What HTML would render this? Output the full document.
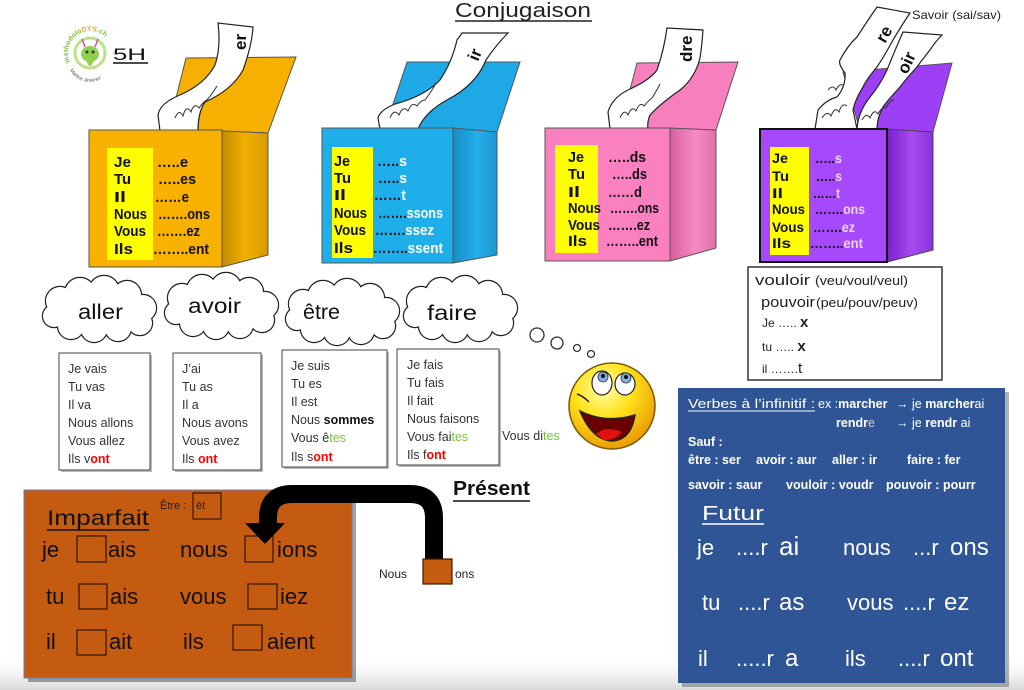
<!DOCTYPE html>
<html><head><meta charset="utf-8">
<style>
html,body{margin:0;padding:0;background:#fff;}
svg{display:block;}
.b{font-family:"Liberation Sans",sans-serif;font-weight:bold;font-size:15px;fill:#111;}
.c{font-family:"Liberation Sans",sans-serif;font-size:12.5px;fill:#333;}
.hw{font-family:"Liberation Sans",sans-serif;}
.w{font-family:"Liberation Sans",sans-serif;font-size:12.5px;fill:#fff;font-weight:bold;}
.wn{font-family:"Liberation Sans",sans-serif;font-size:12.5px;fill:#fff;}
</style></head><body>
<svg width="1024" height="690" viewBox="0 0 1024 690" xmlns="http://www.w3.org/2000/svg">
<defs>
<linearGradient id="gO" x1="0" x2="1" y1="0" y2="0"><stop offset="0" stop-color="#c68c00"/><stop offset="0.5" stop-color="#f0b000"/><stop offset="1" stop-color="#d89b00"/></linearGradient>
<linearGradient id="gB" x1="0" x2="1"><stop offset="0" stop-color="#168cc4"/><stop offset="0.55" stop-color="#24aeea"/><stop offset="1" stop-color="#1c97d0"/></linearGradient>
<linearGradient id="gP" x1="0" x2="1"><stop offset="0" stop-color="#d8609e"/><stop offset="0.55" stop-color="#f58ac4"/><stop offset="1" stop-color="#e070aa"/></linearGradient>
<linearGradient id="gV" x1="0" x2="1"><stop offset="0" stop-color="#7a20cc"/><stop offset="0.55" stop-color="#a64cf2"/><stop offset="1" stop-color="#8a30dc"/></linearGradient>
<radialGradient id="sm" cx="0.4" cy="0.3" r="0.75"><stop offset="0" stop-color="#ffffa8"/><stop offset="0.45" stop-color="#ffe21a"/><stop offset="1" stop-color="#e89400"/></radialGradient>
<linearGradient id="bot" x1="0" x2="0" y1="0" y2="1"><stop offset="0" stop-color="#fff" stop-opacity="0"/><stop offset="1" stop-color="#d8d8d8"/></linearGradient>
<g id="cs">
<circle cx="-40" cy="-10" r="14"/><circle cx="-20" cy="-18" r="15"/><circle cx="4" cy="-20" r="15"/><circle cx="27" cy="-16" r="14"/><circle cx="43" cy="-3" r="13"/><circle cx="40" cy="12" r="12"/><circle cx="18" cy="17" r="13"/><circle cx="-6" cy="18" r="13"/><circle cx="-29" cy="15" r="13"/><circle cx="-46" cy="5" r="11"/>
</g>
<g id="cloud">
<use href="#cs" fill="#fff" stroke="#222" stroke-width="2.4"/>
<use href="#cs" fill="#fff" stroke="none"/>
<ellipse cx="0" cy="0" rx="46" ry="20" fill="#fff"/>
</g>
<path id="arcTop" d="M70,62 A22,22 0 1,1 112,52"/>
<path id="arcBot" d="M70,70 A22,22 0 0,0 108,72"/>
</defs>

<rect x="0" y="655" width="1024" height="35" fill="url(#bot)"/>

<!-- Logo -->
<circle cx="90" cy="53" r="15" fill="#fff" stroke="#bde08a" stroke-width="3"/>
<ellipse cx="90" cy="54" rx="9" ry="8" fill="#8fd14f"/>
<path d="M86,60 Q90,72 94,60 Z" fill="#8fd14f"/>
<line x1="85" y1="47" x2="82" y2="39" stroke="#d05090" stroke-width="1.5"/>
<line x1="95" y1="47" x2="98" y2="39" stroke="#d05090" stroke-width="1.5"/>
<circle cx="87" cy="52" r="1.5" fill="#333"/><circle cx="93" cy="52" r="1.5" fill="#333"/>
<text style="font-family:'Liberation Sans',sans-serif;font-size:7px;font-weight:bold;fill:#7cbf3a"><textPath href="#arcTop">methodolo<tspan fill="#f5a623">DYS</tspan>.ch</textPath></text>
<text style="font-family:'Liberation Sans',sans-serif;font-size:5px;fill:#555"><textPath href="#arcBot">Martine Jiménez</textPath></text>
<text x="113" y="60" class="hw" style="font-size:17px;fill:#111" textLength="33" lengthAdjust="spacingAndGlyphs">5H</text>
<line x1="113" y1="63" x2="148" y2="63" stroke="#111" stroke-width="1.5"/>

<!-- Title -->
<text x="455" y="17" class="hw" style="font-size:20px;fill:#222" textLength="136" lengthAdjust="spacingAndGlyphs">Conjugaison</text>
<line x1="455" y1="21" x2="592" y2="21" stroke="#222" stroke-width="1.5"/>

<!-- ER BOX -->
<polygon points="186,58 296,57 268,133 168,130" fill="#f7b000" stroke="#555" stroke-width="1"/>
<path d="M160,131 L158,115 Q160,103 180,95 Q205,84 215,65 Q221,48 218,23 L253,27 Q252,45 243,70 Q232,90 205,102 Q198,112 198,131 Z" fill="#fff" stroke="#222" stroke-width="1.2"/>
<path d="M175,118 q4,-10 8,-2 q3,-12 8,-4 q3,-10 8,-4 q4,-6 8,-8 q5,-6 10,-14" fill="none" stroke="#333" stroke-width="1"/>
<text x="0" y="0" class="b" transform="translate(246,50) rotate(-90)" style="font-size:17px">er</text>
<polygon points="222,131 268,133 268,255 222,267" fill="url(#gO)" stroke="#555" stroke-width="1"/>
<rect x="89" y="130" width="133" height="137" fill="#f9b100" stroke="#555" stroke-width="1"/>
<rect x="107" y="148" width="46" height="112" fill="#ffff00"/>
<g class="b">
<text x="114" y="167" textLength="17" lengthAdjust="spacingAndGlyphs">Je</text>
<text x="114" y="184" textLength="17" lengthAdjust="spacingAndGlyphs">Tu</text>
<text x="114" y="202" textLength="12" lengthAdjust="spacingAndGlyphs">Il</text>
<text x="114" y="219" textLength="33" lengthAdjust="spacingAndGlyphs">Nous</text>
<text x="114" y="236" textLength="32" lengthAdjust="spacingAndGlyphs">Vous</text>
<text x="114" y="254" textLength="19" lengthAdjust="spacingAndGlyphs">Ils</text>
<text x="157" y="167" textLength="31" lengthAdjust="spacingAndGlyphs">…..e</text>
<text x="158" y="184" textLength="38" lengthAdjust="spacingAndGlyphs">…..es</text>
<text x="155" y="202" textLength="34" lengthAdjust="spacingAndGlyphs">……e</text>
<text x="158" y="219" textLength="52" lengthAdjust="spacingAndGlyphs">…….ons</text>
<text x="157" y="236" textLength="43" lengthAdjust="spacingAndGlyphs">…….ez</text>
<text x="153" y="254" textLength="56" lengthAdjust="spacingAndGlyphs">……..ent</text>
</g>

<!-- IR BOX -->
<polygon points="407,62 520,62 497,132 385,128" fill="#1fa8e6" stroke="#555" stroke-width="1"/>
<path d="M380,129 L378,118 Q380,110 395,104 Q425,96 440,80 Q452,62 457,40 L462,33 L508,33 Q496,45 486,60 Q476,85 447,100 Q425,112 418,129 Z" fill="#fff" stroke="#222" stroke-width="1.2"/>
<path d="M390,118 q4,-10 9,-3 q4,-10 9,-4 q4,-10 9,-5 q4,-6 8,-6 q6,-8 10,-15" fill="none" stroke="#333" stroke-width="1"/>
<text x="0" y="0" class="b" transform="translate(478,62) rotate(-68)" style="font-size:17px">ir</text>
<polygon points="453,128 497,132 497,255 453,263" fill="url(#gB)" stroke="#555" stroke-width="1"/>
<rect x="322" y="128" width="131" height="135" fill="#1eaeea" stroke="#555" stroke-width="1"/>
<rect x="332" y="147" width="41" height="111" fill="#ffff00"/>
<g class="b">
<text x="334" y="166" textLength="16" lengthAdjust="spacingAndGlyphs">Je</text>
<text x="334" y="183" textLength="17" lengthAdjust="spacingAndGlyphs">Tu</text>
<text x="334" y="200" textLength="12" lengthAdjust="spacingAndGlyphs">Il</text>
<text x="334" y="218" textLength="33" lengthAdjust="spacingAndGlyphs">Nous</text>
<text x="334" y="235" textLength="32" lengthAdjust="spacingAndGlyphs">Vous</text>
<text x="334" y="253" textLength="19" lengthAdjust="spacingAndGlyphs">Ils</text>
<text x="377" y="166" textLength="30" lengthAdjust="spacingAndGlyphs">…..<tspan fill="#fff">s</tspan></text>
<text x="378" y="183" textLength="29" lengthAdjust="spacingAndGlyphs">…..<tspan fill="#fff">s</tspan></text>
<text x="374" y="200" textLength="32" lengthAdjust="spacingAndGlyphs">……<tspan fill="#fff">t</tspan></text>
<text x="378" y="218" textLength="65" lengthAdjust="spacingAndGlyphs">…….<tspan fill="#fff">ssons</tspan></text>
<text x="375" y="235" textLength="59" lengthAdjust="spacingAndGlyphs">…….<tspan fill="#fff">ssez</tspan></text>
<text x="373" y="253" textLength="70" lengthAdjust="spacingAndGlyphs">……..<tspan fill="#fff">ssent</tspan></text>
</g>

<!-- DRE BOX -->
<polygon points="637,63 738,62 716,130 620,128" fill="#f77fbe" stroke="#555" stroke-width="1"/>
<path d="M610,129 L608,112 Q612,98 628,90 Q650,80 657,70 Q664,50 667,28 L703,30 Q702,45 700,58 Q695,78 680,90 Q660,104 650,115 Q647,122 648,129 Z" fill="#fff" stroke="#222" stroke-width="1.2"/>
<path d="M620,118 q4,-10 8,-3 q4,-10 8,-4 q4,-10 8,-5 q5,-6 8,-8 q5,-8 8,-14" fill="none" stroke="#333" stroke-width="1"/>
<text x="0" y="0" class="b" transform="translate(692,62) rotate(-90)" style="font-size:17px">dre</text>
<polygon points="670,128 716,130 716,248 670,261" fill="url(#gP)" stroke="#555" stroke-width="1"/>
<rect x="545" y="128" width="125" height="133" fill="#fb80c0" stroke="#555" stroke-width="1"/>
<rect x="555" y="145" width="43" height="108" fill="#ffff00"/>
<g class="b">
<text x="568" y="162" textLength="16" lengthAdjust="spacingAndGlyphs">Je</text>
<text x="568" y="179" textLength="17" lengthAdjust="spacingAndGlyphs">Tu</text>
<text x="568" y="197" textLength="12" lengthAdjust="spacingAndGlyphs">Il</text>
<text x="568" y="213" textLength="33" lengthAdjust="spacingAndGlyphs">Nous</text>
<text x="568" y="230" textLength="32" lengthAdjust="spacingAndGlyphs">Vous</text>
<text x="568" y="246" textLength="19" lengthAdjust="spacingAndGlyphs">Ils</text>
<text x="608" y="162" textLength="38" lengthAdjust="spacingAndGlyphs">…..ds</text>
<text x="612" y="179" textLength="35" lengthAdjust="spacingAndGlyphs">…..ds</text>
<text x="608" y="197" textLength="34" lengthAdjust="spacingAndGlyphs">……d</text>
<text x="610" y="213" textLength="49" lengthAdjust="spacingAndGlyphs">…….ons</text>
<text x="608" y="230" textLength="42" lengthAdjust="spacingAndGlyphs">…….ez</text>
<text x="606" y="246" textLength="52" lengthAdjust="spacingAndGlyphs">……..ent</text>
</g>

<!-- RE/OIR BOX -->
<polygon points="843,72 952,63 933,132 860,130" fill="#9d3ff5" stroke="#555" stroke-width="1"/>
<path d="M815,129 L818,110 Q826,100 837,97 Q846,86 845,73 Q838,64 840,60 Q848,45 857,37 Q868,20 877,7 L910,13 Q900,28 893,40 Q885,55 877,67 Q866,80 863,87 Q855,100 853,110 L857,129 Z" fill="#fff" stroke="#222" stroke-width="1.2"/>
<path d="M857,129 Q858,112 870,97 Q880,85 887,70 Q895,50 903,32 L942,35 Q935,42 930,50 Q922,60 917,67 Q905,80 900,87 Q888,100 883,107 Q877,118 877,129 Z" fill="#fff" stroke="#222" stroke-width="1.2"/>
<path d="M822,118 q5,-8 9,-2 q4,-10 8,-4 q3,-10 8,-6 M828,90 q5,-6 8,0 q4,-8 8,-4" fill="none" stroke="#333" stroke-width="1"/>
<path d="M862,120 q4,-8 8,-2 q4,-10 8,-4 q4,-8 8,-6 q4,-8 8,-8" fill="none" stroke="#333" stroke-width="1"/>
<text x="0" y="0" class="b" transform="translate(885,44) rotate(-60)" style="font-size:17px">re</text>
<text x="0" y="0" class="b" transform="translate(907,75) rotate(-65)" style="font-size:17px">oir</text>
<polygon points="887,129 933,132 933,250 887,262" fill="url(#gV)" stroke="#444" stroke-width="1"/>
<rect x="760" y="129" width="127" height="133" fill="#a649fb" stroke="#111" stroke-width="2"/>
<rect x="770" y="147" width="39" height="108" fill="#ffff00"/>
<g class="b" style="font-size:14px">
<text x="772" y="163" textLength="16" lengthAdjust="spacingAndGlyphs">Je</text>
<text x="772" y="181" textLength="17" lengthAdjust="spacingAndGlyphs">Tu</text>
<text x="772" y="198" textLength="11" lengthAdjust="spacingAndGlyphs">Il</text>
<text x="772" y="214" textLength="33" lengthAdjust="spacingAndGlyphs">Nous</text>
<text x="772" y="232" textLength="32" lengthAdjust="spacingAndGlyphs">Vous</text>
<text x="772" y="248" textLength="19" lengthAdjust="spacingAndGlyphs">Ils</text>
<text x="815" y="163" textLength="27" lengthAdjust="spacingAndGlyphs">…..<tspan fill="#ead6ff">s</tspan></text>
<text x="816" y="181" textLength="26" lengthAdjust="spacingAndGlyphs">…..<tspan fill="#ead6ff">s</tspan></text>
<text x="813" y="198" textLength="27" lengthAdjust="spacingAndGlyphs">……<tspan fill="#ead6ff">t</tspan></text>
<text x="815" y="214" textLength="50" lengthAdjust="spacingAndGlyphs">…….<tspan fill="#ead6ff">ons</tspan></text>
<text x="813" y="232" textLength="42" lengthAdjust="spacingAndGlyphs">…….<tspan fill="#ead6ff">ez</tspan></text>
<text x="810" y="248" textLength="53" lengthAdjust="spacingAndGlyphs">……..<tspan fill="#ead6ff">ent</tspan></text>
</g>
<text x="912" y="19" class="c" style="font-size:12px;fill:#222" textLength="89" lengthAdjust="spacingAndGlyphs">Savoir (sai/sav)</text>

<!-- vouloir box -->
<rect x="748" y="267" width="194" height="113" fill="#fff" stroke="#333" stroke-width="1.5"/>
<text x="755" y="285" class="hw" style="font-size:15px;fill:#222" textLength="55" lengthAdjust="spacingAndGlyphs">vouloir</text>
<text x="815" y="285" class="c" style="fill:#222" textLength="93" lengthAdjust="spacingAndGlyphs">(veu/voul/veul)</text>
<text x="761" y="307" class="hw" style="font-size:15px;fill:#222" textLength="54" lengthAdjust="spacingAndGlyphs">pouvoir</text>
<text x="816" y="307" class="c" style="fill:#222" textLength="102" lengthAdjust="spacingAndGlyphs">(peu/pouv/peuv)</text>
<text x="762" y="327" class="c" style="font-size:12px;fill:#222">Je ….. <tspan font-weight="bold" font-size="15">x</tspan></text>
<text x="762" y="351" class="c" style="font-size:12px;fill:#222">tu ….. <tspan font-weight="bold" font-size="15">x</tspan></text>
<text x="762" y="373" class="c" style="font-size:12px;fill:#222">il  …….<tspan font-size="15">t</tspan></text>

<!-- Clouds -->
<use href="#cloud" transform="translate(100,311)"/>
<use href="#cloud" transform="translate(222,308)"/>
<use href="#cloud" transform="translate(343,314)"/>
<use href="#cloud" transform="translate(461,311)"/>
<g class="hw" style="font-size:21px;fill:#111">
<text x="78" y="319" textLength="45" lengthAdjust="spacingAndGlyphs">aller</text>
<text x="188" y="313" textLength="53" lengthAdjust="spacingAndGlyphs">avoir</text>
<text x="303" y="319" textLength="37" lengthAdjust="spacingAndGlyphs">être</text>
<text x="427" y="320" textLength="50" lengthAdjust="spacingAndGlyphs">faire</text>
</g>
<g fill="#fff" stroke="#333" stroke-width="1.3">
<circle cx="537" cy="335" r="7"/><circle cx="557" cy="343" r="6"/><circle cx="577" cy="348" r="3.5"/><circle cx="591" cy="354" r="3.5"/>
</g>

<!-- list boxes -->
<g fill="#bbb">
<rect x="61" y="355" width="91" height="117"/><rect x="175" y="355" width="88" height="117"/><rect x="284" y="352" width="105" height="117"/><rect x="399" y="351" width="102" height="116"/>
</g>
<g fill="#fff" stroke="#444" stroke-width="1">
<rect x="59" y="353" width="91" height="117"/><rect x="173" y="353" width="88" height="117"/><rect x="282" y="350" width="105" height="117"/><rect x="397" y="349" width="102" height="116"/>
</g>
<g class="c">
<text x="68" y="373">Je vais</text><text x="68" y="391">Tu vas</text><text x="68" y="409">Il va</text><text x="68" y="427">Nous allons</text><text x="68" y="445">Vous allez</text><text x="68" y="463">Ils v<tspan fill="#ff0000" font-weight="bold">ont</tspan></text>
<text x="182" y="373">J’ai</text><text x="182" y="391">Tu as</text><text x="182" y="409">Il a</text><text x="182" y="427">Nous avons</text><text x="182" y="445">Vous avez</text><text x="182" y="463">Ils <tspan fill="#ff0000" font-weight="bold">ont</tspan></text>
<text x="291" y="370">Je suis</text><text x="291" y="388">Tu es</text><text x="291" y="406">Il est</text><text x="291" y="424">Nous <tspan font-weight="bold" fill="#111">sommes</tspan></text><text x="291" y="442">Vous ê<tspan fill="#7ac143">tes</tspan></text><text x="291" y="461">Ils s<tspan fill="#ff0000" font-weight="bold">ont</tspan></text>
<text x="407" y="369">Je fais</text><text x="407" y="387">Tu fais</text><text x="407" y="405">Il fait</text><text x="407" y="423">Nous faisons</text><text x="407" y="441">Vous fai<tspan fill="#7ac143">tes</tspan></text><text x="407" y="459">Ils f<tspan fill="#ff0000" font-weight="bold">ont</tspan></text>
<text x="502" y="440">Vous di<tspan fill="#7ac143">tes</tspan></text>
</g>

<!-- Smiley -->
<circle cx="612" cy="406" r="43" fill="url(#sm)" stroke="#7a5a00" stroke-width="1.5"/>
<ellipse cx="602" cy="383" rx="10" ry="12" fill="#fff" stroke="#222" stroke-width="1.2"/>
<ellipse cx="625" cy="384" rx="10" ry="11" fill="#fff" stroke="#222" stroke-width="1.2"/>
<circle cx="603" cy="377" r="5" fill="#7fb0e0" stroke="#333" stroke-width="0.8"/><circle cx="603" cy="376" r="2" fill="#111"/>
<circle cx="626" cy="378" r="5" fill="#7fb0e0" stroke="#333" stroke-width="0.8"/><circle cx="626" cy="377" r="2" fill="#111"/>
<path d="M577,394 Q583,396 589,402" fill="none" stroke="#222" stroke-width="1.5"/>
<path d="M580,411 Q606,424 635,415 Q631,440 612,441 Q592,440 580,411 Z" fill="#6a0000" stroke="#222" stroke-width="1.5"/>
<path d="M596,434 Q606,425 622,432 Q614,441 604,440 Z" fill="#e01010"/>

<!-- Blue panel -->
<rect x="682" y="392" width="327" height="295" fill="#666" opacity="0.5"/>
<rect x="678" y="388" width="327" height="295" fill="#2f5597"/>
<text x="688" y="408" class="wn" textLength="127" lengthAdjust="spacingAndGlyphs">Verbes  à  l’infinitif :</text>
<line x1="688" y1="411" x2="815" y2="411" stroke="#fff" stroke-width="1"/>
<text x="818" y="408" class="wn">ex :<tspan font-weight="bold">marcher</tspan></text>
<text x="896" y="408" class="wn">→  je <tspan font-weight="bold">marcher</tspan>ai</text>
<text x="836" y="427" class="w">rendr<tspan font-weight="normal" fill="#ccc">e</tspan></text>
<text x="896" y="427" class="wn">→  je  <tspan font-weight="bold">rendr</tspan> ai</text>
<text x="688" y="446" class="w">Sauf :</text>
<text x="688" y="464" class="w">être : ser</text><text x="756" y="464" class="w">avoir : aur</text><text x="832" y="464" class="w">aller : ir</text><text x="907" y="464" class="w">faire : fer</text>
<text x="688" y="489" class="w">savoir : saur</text><text x="786" y="489" class="w">vouloir : voudr</text><text x="886" y="489" class="w">pouvoir : pourr</text>
<text x="702" y="520" class="hw" style="font-size:20px;fill:#fff" textLength="62" lengthAdjust="spacingAndGlyphs">Futur</text>
<line x1="702" y1="524" x2="764" y2="524" stroke="#fff" stroke-width="1.5"/>
<g class="hw" style="font-size:22px;fill:#fff">
<text x="697" y="555">je</text><text x="736" y="555">....r</text><text x="779" y="555" style="font-size:26px">ai</text>
<text x="843" y="555">nous</text><text x="913" y="555">...r</text><text x="950" y="555" style="font-size:24px">ons</text>
<text x="702" y="610">tu</text><text x="738" y="610">....r</text><text x="779" y="610" style="font-size:24px">as</text>
<text x="847" y="610">vous</text><text x="903" y="610">....r</text><text x="944" y="610" style="font-size:24px">ez</text>
<text x="698" y="666">il</text><text x="736" y="666">.....r</text><text x="785" y="666" style="font-size:24px">a</text>
<text x="845" y="666">ils</text><text x="898" y="666">....r</text><text x="940" y="666" style="font-size:24px">ont</text>
</g>

<!-- Orange panel -->
<rect x="28" y="494" width="328" height="188" fill="#555" opacity="0.55"/>
<rect x="24" y="490" width="328" height="188" fill="#c55a11" stroke="#6a7fb0" stroke-width="1"/>
<text x="160" y="509" class="c" style="font-size:11px;fill:#222">Être :</text>
<rect x="193" y="493" width="28" height="26" fill="none" stroke="#3a1a00" stroke-width="1.2"/>
<text x="196" y="509" class="c" style="font-size:11px;fill:#222">ét</text>
<text x="47" y="525" class="hw" style="font-size:21px;fill:#111" textLength="102" lengthAdjust="spacingAndGlyphs">Imparfait</text>
<line x1="47" y1="530" x2="149" y2="530" stroke="#111" stroke-width="1.5"/>
<g class="hw" style="font-size:22px;fill:#111">
<text x="42" y="557">je</text><text x="108" y="557">ais</text><text x="180" y="557">nous</text><text x="277" y="557">ions</text>
<text x="46" y="604">tu</text><text x="110" y="604">ais</text><text x="180" y="604">vous</text><text x="280" y="604">iez</text>
<text x="46" y="649">il</text><text x="109" y="649">ait</text><text x="183" y="649">ils</text><text x="267" y="649">aient</text>
</g>
<g fill="none" stroke="#3a1a00" stroke-width="1.3">
<rect x="77" y="536" width="29" height="26"/><rect x="245" y="536" width="28" height="26"/>
<rect x="79" y="584" width="28" height="25"/><rect x="248" y="584" width="29" height="25"/>
<rect x="77" y="630" width="29" height="25"/><rect x="233" y="625" width="29" height="25"/>
</g>

<!-- Présent & arrow -->
<text x="453" y="495" class="hw" style="font-size:20px;fill:#111;font-weight:bold" textLength="77" lengthAdjust="spacingAndGlyphs">Présent</text>
<line x1="453" y1="501" x2="530" y2="501" stroke="#111" stroke-width="1.5"/>
<path d="M434,562 L434,518 Q434,494 410,494 L292,494 Q268,494 268,518 L268,526" fill="none" stroke="#000" stroke-width="18"/>
<polygon points="245,523 285,523 265,544" fill="#000"/>
<text x="379" y="578" class="c" style="font-size:12px;fill:#222">Nous</text>
<rect x="423" y="559" width="29" height="25" fill="#c55a11" stroke="#3a1a00" stroke-width="1.2"/>
<text x="455" y="578" class="c" style="font-size:12px;fill:#222">ons</text>
</svg>
</body></html>
